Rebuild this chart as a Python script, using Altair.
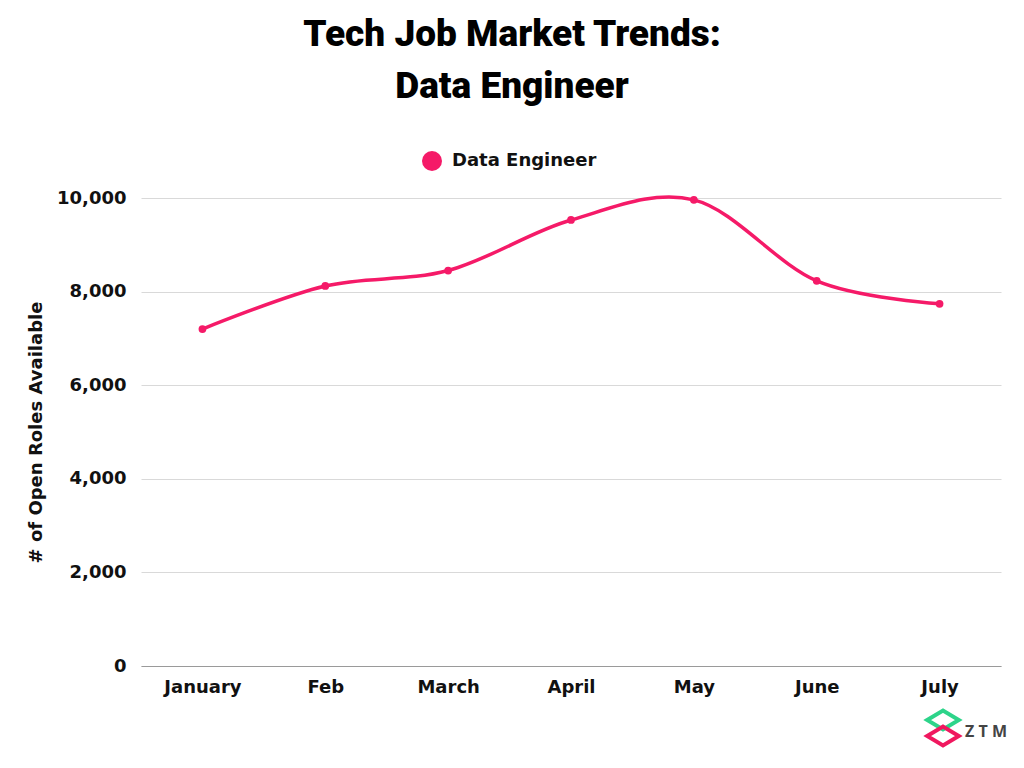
import altair as alt
import pandas as pd

months = ["January", "Feb", "March", "April", "May", "June", "July"]
roles = [7200, 8120, 8450, 9530, 9960, 8230, 7740]
series = "Data Engineer"
y_ticks = [0, 2000, 4000, 6000, 8000, 10000]

PINK = "#F51A68"
FONT = "DejaVu Sans"

df = pd.DataFrame({"month": months, "roles": roles, "series": [series] * len(months)})

x_enc = alt.X("month:N", sort=months, scale=alt.Scale(type="point", padding=0.5),
              axis=alt.Axis(title=None, labelFont=FONT, labelFontSize=18, labelFontWeight="bold",
                            labelColor="#111", labelPadding=12, ticks=False, domain=True,
                            domainColor="#9a9a9a", domainWidth=1, grid=False, labelAngle=0))
y_enc = alt.Y("roles:Q", scale=alt.Scale(domain=[0, 10000], nice=False),
              axis=alt.Axis(title="# of Open Roles Available", values=y_ticks, format=",.0f",
                            labelFont=FONT, labelFontSize=18, labelFontWeight="bold", labelColor="#111",
                            labelPadding=15, ticks=False, domain=False, gridColor="#d9d9d9",
                            titleFont=FONT, titleFontSize=18, titleFontWeight="bold", titleColor="#111",
                            titleX=-100, titleY=234, titleAngle=-90, titleBaseline="alphabetic",
                            titleAlign="center"))
color_enc = alt.Color("series:N", scale=alt.Scale(range=[PINK]),
                      legend=alt.Legend(title=None, orient="none", legendX=281, legendY=-47,
                                        symbolType="circle", symbolSize=400, symbolStrokeWidth=0,
                                        labelFont=FONT, labelFontSize=18, labelFontWeight="bold",
                                        labelColor="#111", labelOffset=10))

line = alt.Chart(df).mark_line(interpolate="cardinal", strokeWidth=3.5).encode(
    x=x_enc, y=y_enc, color=color_enc)
points = alt.Chart(df).mark_point(filled=True, size=60, opacity=1).encode(
    x=x_enc, y=y_enc, color=alt.Color("series:N", scale=alt.Scale(range=[PINK]), legend=None))

logo_df = pd.DataFrame({"k": ["g", "p"]})
rhombus = "M -1 0 L 0 -0.6 L 1 0 L 0 0.6 Z"
logo_g = alt.Chart(logo_df.iloc[[0]]).mark_point(shape=rhombus, filled=False, strokeWidth=4,
                                                 color="#2DD48A", size=1000, opacity=1).encode(
    x=alt.value(802), y=alt.value(522))
logo_p = alt.Chart(logo_df.iloc[[1]]).mark_point(shape=rhombus, filled=False, strokeWidth=4,
                                                 color="#F0185F", size=1000, opacity=1).encode(
    x=alt.value(802), y=alt.value(538))
logo_t = alt.Chart(logo_df.iloc[[0]]).mark_text(text="Z T M", font="Open Sans", fontSize=16,
                                                fontWeight="bold", color="#444", align="center",
                                                baseline="alphabetic").encode(
    x=alt.value(845), y=alt.value(539))

chart = alt.layer(line, points, logo_g, logo_p, logo_t).properties(
    width=860, height=468,
    title=alt.Title(["Tech Job Market Trends:", "Data Engineer"], font="Roboto", fontWeight=900,
                    fontSize=37, lineHeight=52, color="#000", anchor="middle", dx=-59,
                    baseline="alphabetic", offset=16),
    autosize=alt.AutoSizeParams(type="none"),
    padding={"left": 133, "top": 190, "right": 15, "bottom": 94},
).configure(background="white", view=alt.ViewConfig(strokeWidth=0, stroke="transparent"))

chart.save("out.html", embed_options={"renderer": "svg", "actions": False})
